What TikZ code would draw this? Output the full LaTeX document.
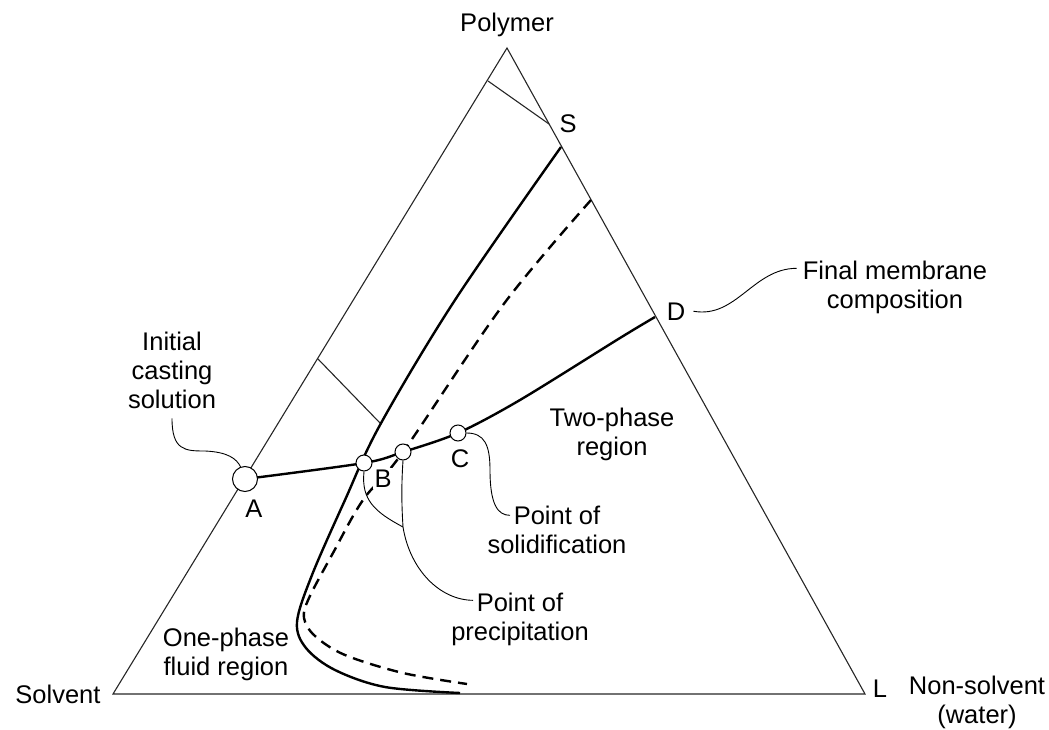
\documentclass[tikz,border=0pt]{standalone}
\usepackage{fontspec}
\setmainfont{Liberation Sans}

\begin{document}
\begin{tikzpicture}[x=1pt, y=-1pt, font=\fontsize{25.5}{29}\selectfont,
  edge/.style={line width=1.1pt, black!85},
  curve/.style={line width=2.4pt},
  lead/.style={line width=0.9pt},
  pt/.style={circle, draw, line width=1pt, fill=white, inner sep=0pt, minimum size=16pt},
  lbl/.style={inner sep=0pt, anchor=base, align=center}]
  \useasboundingbox (0,0) rectangle (1049,730);
  \coordinate (top) at (507,48); \coordinate (sol) at (113,694); \coordinate (non) at (865,694);
  \draw[edge] (top) -- (sol) -- (non) -- cycle;
  \draw[edge] (488,81) -- (549,124);
  \draw[edge] (318,359) -- (380,423);
  \draw[curve] plot[smooth, tension=0.55] coordinates {(561,147) (455,300) (380,425) (345,500) (312,575) (297,622) (306,648) (335,670) (385,687) (460,693)};
  \draw[curve, dash pattern=on 11pt off 7pt] plot[smooth, tension=0.55] coordinates {(591,200) (503,305) (403,452) (363,500) (333,553) (309,598) (304,618) (315,636) (345,655) (403,673) (467,684)};
  \draw[curve] plot[smooth] coordinates {(245,479) (364,463) (403,452) (458,433) (520,400) (620,338) (655,317)};
  \node[pt, minimum size=25pt] (A) at (245,479) {};
  \node[pt] (B) at (364,463) {};
  \node[pt] (Pr) at (403,452) {};
  \node[pt] (C) at (458,433) {};
  \coordinate (fork) at (403,527);
  \node[lbl] (polylbl) at (507,32) {Polymer};
  \node[lbl] (slbl) at (568,133) {S};
  \node[lbl] (dlbl) at (676,320) {D};
  \node[lbl] (llbl) at (880,697) {L};
  \node[lbl] (solvlbl) at (58,703) {Solvent};
  \node[lbl] (nonlbl) at (977,723) {Non-solvent\\(water)};
  \node[lbl] (albl) at (254,517) {A};
  \node[lbl, fill=white, inner sep=1.5pt] (blbl) at (383,487) {B};
  \node[lbl] (clbl) at (460,467) {C};
  \node[lbl] (finallbl) at (895,308) {Final membrane\\composition};
  \node[lbl] (twolbl) at (612,455) {Two-phase\\region};
  \node[lbl] (solidlbl) at (557,553) {Point of\\solidification};
  \node[lbl] (preclbl) at (520,640) {Point of\\precipitation};
  \node[lbl] (onelbl) at (226,675) {One-phase\\fluid region};
  \node[lbl] (initlbl) at (172,408) {Initial\\casting\\solution};
  \draw[lead] ([yshift=-10pt]initlbl.south) .. controls +(0,32) and +(-20,0) .. (205,451) .. controls +(23,1) and +(-4,-8) .. (A.110);
  \draw[lead] ([xshift=8pt]dlbl.east) to[out=-10, in=180] ([xshift=-6pt, yshift=-8pt]finallbl.north west);
  \draw[lead] (C.east) .. controls +(18,0) and +(0,-25) .. (490,470) .. controls +(0,35) and +(-12,0) .. ([xshift=-47pt, yshift=-10pt]solidlbl.north);
  \draw[lead] (B.south) .. controls (361,500) and (375,512) .. (fork);
  \draw[lead] (Pr.south) .. controls (401,490) and (402,510) .. (fork) .. controls (410,570) and (440,600) .. ([xshift=-47pt, yshift=-8pt]preclbl.north);
\end{tikzpicture}
\end{document}
